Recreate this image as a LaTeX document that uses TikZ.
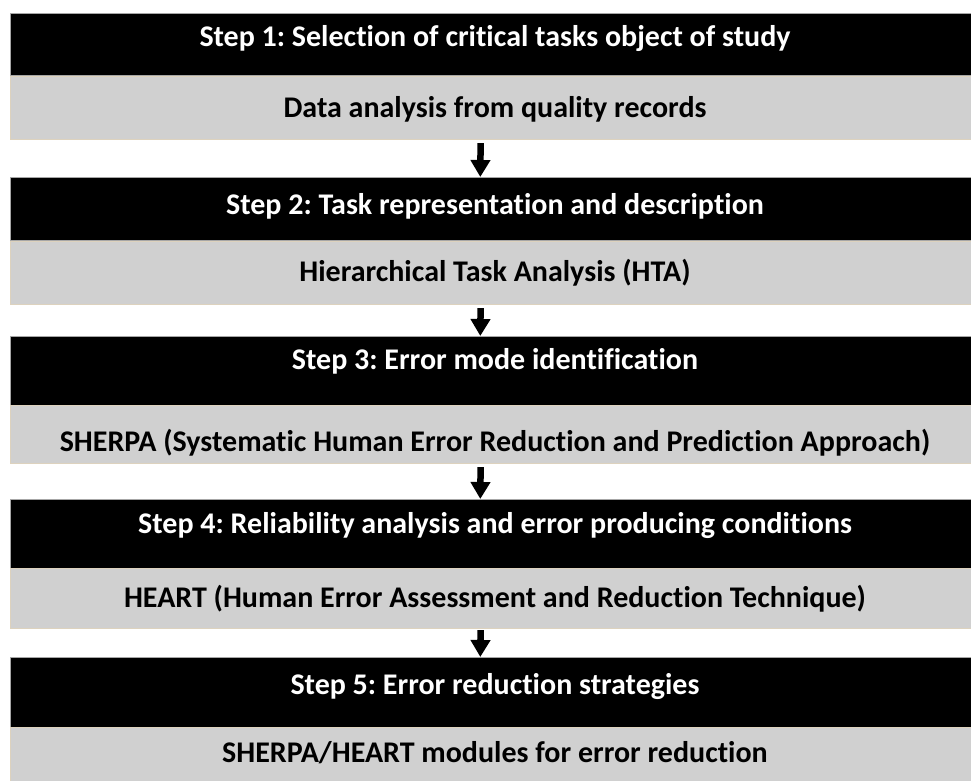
\documentclass[tikz,border=0pt]{standalone}
\usepackage{fontspec}
\setmainfont[RawFeature={-liga}]{Carlito}
\usetikzlibrary{arrows.meta}
\definecolor{barblack}{HTML}{000000}
\definecolor{bargray}{HTML}{D0D0D0}
\definecolor{beige}{HTML}{DDD2BE}
\begin{document}
\frenchspacing
\begin{tikzpicture}[x=1pt,y=1pt,
  blackbar/.style={anchor=north west, rectangle, fill=barblack, draw=gray!70, line width=0.6pt, minimum width=964pt, inner sep=0pt},
  graybar/.style={anchor=north west, rectangle, fill=bargray, draw=beige, line width=1.2pt, minimum width=964pt, inner sep=0pt},
  bartext/.style={inner sep=0pt, text height=19pt, text depth=0pt, font=\fontsize{30}{34}\selectfont\bfseries},
  whitetext/.style={bartext, text=white},
  darktext/.style={bartext, text=black},
  flow/.style={line width=6.5pt, -{Triangle[width=19pt,length=17pt]}}
]
\useasboundingbox (0,0) rectangle (971,-781);
\fill[white] (0,0) rectangle (971,-781);
% bars
\node[blackbar, minimum height=62pt] (b1) at (10,-13) {};
\node[graybar,  minimum height=63pt] (g1) at (10,-76) {};
\node[blackbar, minimum height=63pt] (b2) at (10,-177) {};
\node[graybar,  minimum height=63pt] (g2) at (10,-241) {};
\node[blackbar, minimum height=69pt] (b3) at (10,-336) {};
\node[graybar,  minimum height=58pt] (g3) at (10,-405) {};
\node[blackbar, minimum height=69pt] (b4) at (10,-499) {};
\node[graybar,  minimum height=60pt] (g4) at (10,-568) {};
\node[blackbar, minimum height=70pt] (b5) at (10,-657) {};
\node[graybar,  minimum height=58pt] (g5) at (10,-727) {};
% texts
\node[whitetext] (t1) at (495,-37) {Step 1: Selection of critical tasks object of study};
\node[darktext]  (d1) at (495,-108) {Data analysis from quality records};
\node[whitetext] (t2) at (495,-205) {Step 2: Task representation and description};
\node[darktext]  (d2) at (495,-272) {Hierarchical Task Analysis (HTA)};
\node[whitetext] (t3) at (495,-360) {Step 3: Error mode identification};
\node[darktext]  (d3) at (495,-442) {SHERPA (Systematic Human Error Reduction and Prediction Approach)};
\node[whitetext] (t4) at (495,-524) {Step 4: Reliability analysis and error producing conditions};
\node[darktext]  (d4) at (495,-598) {HEART (Human Error Assessment and Reduction Technique)};
\node[whitetext] (t5) at (495,-685) {Step 5: Error reduction strategies};
\node[darktext]  (d5) at (495,-753) {SHERPA/HEART modules for error reduction};
% arrows
\draw[flow] ([xshift=-12pt,yshift=-3pt]g1.south) -- ([xshift=-12pt]b2.north);
\draw[flow] ([xshift=-12pt,yshift=-3pt]g2.south) -- ([xshift=-12pt]b3.north);
\draw[flow] ([xshift=-12pt,yshift=-3pt]g3.south) -- ([xshift=-12pt]b4.north);
\draw[flow] ([xshift=-12pt,yshift=-1pt]g4.south) -- ([xshift=-12pt]b5.north);
\end{tikzpicture}
\end{document}
